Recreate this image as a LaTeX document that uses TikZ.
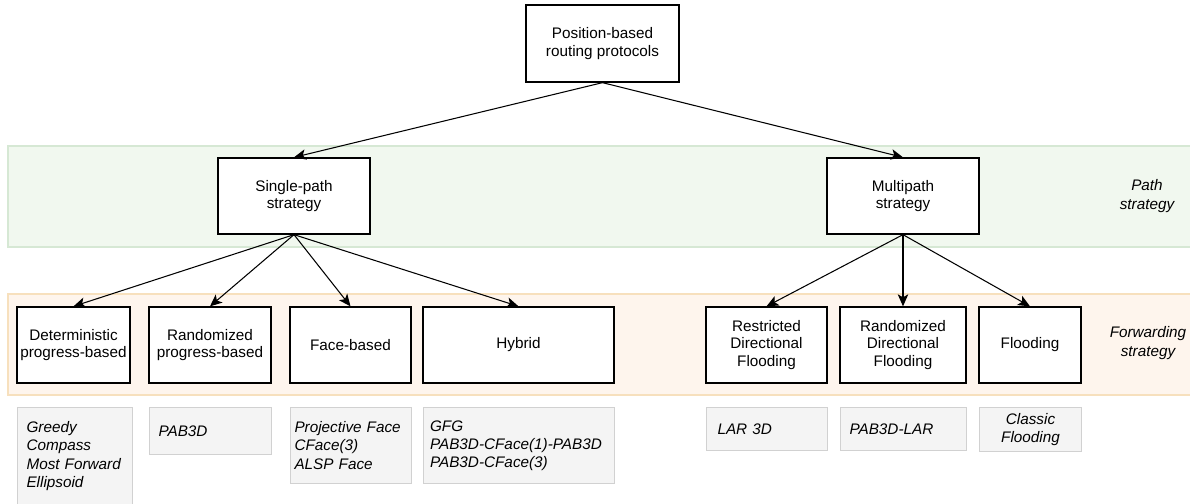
\documentclass[tikz,border=0pt]{standalone}
\usepackage{fontspec}
\setmainfont{Liberation Sans}
\usepackage{tikz}
\usetikzlibrary{positioning,calc,arrows.meta}
\definecolor{bandgreen}{rgb}{0.945, 0.973, 0.937}
\definecolor{bandgreenline}{rgb}{0.84, 0.91, 0.83}
\definecolor{bandorange}{rgb}{0.996, 0.961, 0.929}
\definecolor{bandorangeline}{rgb}{0.97, 0.88, 0.74}
\definecolor{exgray}{rgb}{0.957, 0.957, 0.957}
\definecolor{exgrayline}{rgb}{0.82, 0.82, 0.82}
\hyphenpenalty=10000

\tikzset{
	box/.style={rectangle,draw,fill=white,line width=0.75pt,align=center,inner xsep=1pt,font=\fontsize{8.7}{10}\selectfont},
	exbox/.style={rectangle,draw=exgrayline,fill=exgray,line width=0.6pt,anchor=north west,align=left,inner xsep=0.18cm,minimum height=#1,font=\fontsize{8.7}{10.4}\selectfont\itshape},
	bandlabel/.style={align=center,font=\fontsize{8.7}{10.4}\selectfont\itshape},
	arr/.style={-{Stealth[length=2.4mm,width=2.1mm,inset=0.6mm]},line width=0.6pt}
}

\begin{document}
\begin{tikzpicture}
		\useasboundingbox (0,0) rectangle (23.8,-10.08);
		
		% the two strategy bands
		\draw[draw=bandgreenline,fill=bandgreen,line width=0.6pt] (0.16,-2.92) rectangle (24.2,-4.94);
		\draw[draw=bandorangeline,fill=bandorange,line width=0.6pt] (0.16,-5.88) rectangle (24.2,-7.9);
		\node[bandlabel] (pathlbl) at (22.94,-3.92){Path\\strategy};
		\node[bandlabel] (fwdlbl) at (22.96,-6.86){Forwarding\\strategy};
		
		% tree
		\node[box,minimum width=3.06cm,minimum height=1.54cm] (root) at (12.05,-0.87){Position-based\\routing protocols};
		
		\node[box,minimum width=3.04cm,minimum height=1.52cm] (single) at (5.88,-3.92){Single-path\\strategy};
		\node[box,minimum width=3.04cm,minimum height=1.52cm] (multi) at (18.06,-3.92){Multipath\\strategy};
		
		\node[box,minimum width=2.26cm,minimum height=1.52cm] (det) at (1.47,-6.9){Deterministic\\progress-based};
		\node[box,minimum width=2.44cm,minimum height=1.52cm] (rand) at (4.2,-6.9){Randomized\\progress-based};
		\node[box,minimum width=2.42cm,minimum height=1.52cm] (face) at (7.01,-6.9){Face-based};
		\node[box,minimum width=3.82cm,minimum height=1.52cm] (hyb) at (10.37,-6.9){Hybrid};
		\node[box,minimum width=2.42cm,minimum height=1.52cm] (rdf) at (15.33,-6.9){Restricted\\Directional\\Flooding};
		\node[box,minimum width=2.52cm,minimum height=1.52cm] (randdf) at (18.06,-6.9){Randomized\\Directional\\Flooding};
		\node[box,minimum width=2.04cm,minimum height=1.52cm] (flood) at (20.6,-6.9){Flooding};
		
		\draw[arr] (root.south) -- (single.north);
		\draw[arr] (root.south) -- (multi.north);
		
		\draw[arr] (single.south) -- (det.north);
		\draw[arr] (single.south) -- (rand.north);
		\draw[arr] (single.south) -- (face.north);
		\draw[arr] (single.south) -- (hyb.north);
		
		\draw[arr] (multi.south) -- (rdf.north);
		\draw[arr] (multi.south) -- (randdf.north);
		\draw[arr] (multi.south) -- (flood.north);
		
		% examples of each protocol family
		\node[exbox=1.94cm,text width=1.94cm] (exdet) at (0.34,-8.14){Greedy\\Compass\\Most Forward\\Ellipsoid};
		\node[exbox=0.94cm,text width=2.08cm] (exrand) at (2.98,-8.14){PAB3D};
		\node[exbox=1.52cm,text width=2.26cm,inner xsep=0.08cm] (exface) at (5.8,-8.14){Projective Face\\CFace(3)\\ALSP Face};
		\node[exbox=1.52cm,text width=3.56cm,inner xsep=0.13cm] (exhyb) at (8.46,-8.14){GFG\\PAB3D-CFace(1)-PAB3D\\PAB3D-CFace(3)};
		\node[exbox=0.86cm,text width=1.98cm,inner xsep=0.22cm] (exrdf) at (14.12,-8.14){LAR 3D};
		\node[exbox=0.86cm,text width=2.16cm] (exranddf) at (16.8,-8.14){PAB3D-LAR};
		\node[exbox=0.86cm,text width=1.68cm,align=center] (exflood) at (19.58,-8.14){Classic\\Flooding};
		
\end{tikzpicture}
\end{document}
